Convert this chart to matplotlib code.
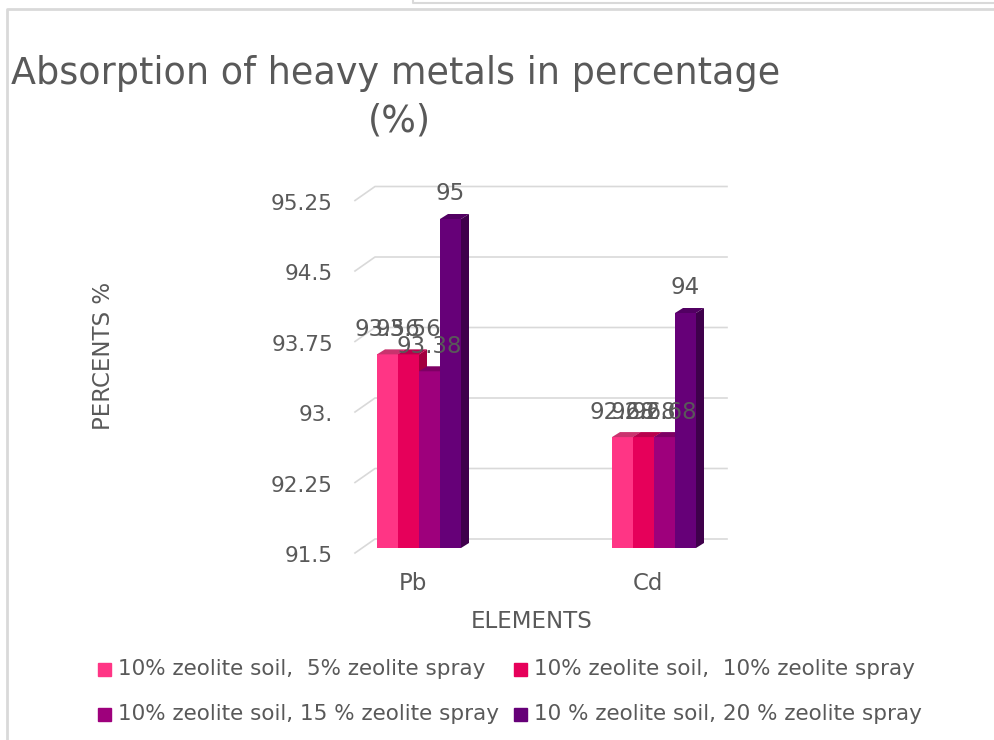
import matplotlib
matplotlib.use("Agg")
import matplotlib.pyplot as plt
from matplotlib.patches import Polygon, Rectangle
from matplotlib.lines import Line2D

# ---- data ----
categories = ["Pb", "Cd"]
series_names = [
    "10% zeolite soil,  5% zeolite spray",
    "10% zeolite soil,  10% zeolite spray",
    "10% zeolite soil, 15 % zeolite spray",
    "10 % zeolite soil, 20 % zeolite spray",
]
pb_values = [93.56, 93.56, 93.38, 95]
cd_values = [92.68, 92.68, 92.68, 94]
value_labels_pb = ["93.56", "93.56", "93.38", "95"]
value_labels_cd = ["92.68", "92.68", "92.68", "94"]
tick_values = [91.5, 92.25, 93.0, 93.75, 94.5, 95.25]
tick_labels = ["91.5", "92.25", "93.", "93.75", "94.5", "95.25"]

front_colors = ["#FF3585", "#E6005A", "#9E007C", "#660078"]
top_colors = ["#C9336E", "#B8004C", "#7E0064", "#520062"]
side_colors = ["#B8245F", "#A3003F", "#6E0057", "#3F004B"]

text_color = "#595959"
grid_color = "#D9D9D9"
font = "DejaVu Sans"

W, H = 994, 740
fig = plt.figure(figsize=(W / 100, H / 100), dpi=100)


def fx(px):
    return px / W


def fy(py):
    return 1 - py / H


# chart border
fig.add_artist(Line2D([fx(7), fx(7), fx(994)], [fy(740), fy(9), fy(9)],
                      color=grid_color, lw=2, transform=fig.transFigure))
fig.add_artist(Line2D([fx(413), fx(413), fx(994)], [fy(0), fy(3), fy(3)],
                      color=grid_color, lw=1.5, transform=fig.transFigure))

# plot axes: category 0 at x=419px, spacing 235px; 91.5 at y=548px, 94 px per unit
px_per_cat = 235.0
px_per_val = 94.0
ax_left = 419 - 0.5 * px_per_cat
ax_right = 419 + 1.5 * px_per_cat
ax_bottom = 548
ax_top = 548 - 4.0 * px_per_val
ax = fig.add_axes([fx(ax_left), fy(ax_bottom), fx(ax_right - ax_left), (ax_bottom - ax_top) / H])
ax.set_xlim(-0.5, 1.5)
ax.set_ylim(91.5, 95.5)
ax.axis("off")

# 3D wall gridlines
back_dy = 9 / px_per_val
front_dy = -5 / px_per_val
back_x0 = (375 - 419) / px_per_cat
back_x1 = (727 - 419) / px_per_cat
front_x = (355 - 419) / px_per_cat
for v in tick_values:
    ax.plot([front_x, back_x0, back_x1], [v + front_dy, v + back_dy, v + back_dy],
            color=grid_color, lw=1.2, clip_on=False, zorder=1)

for v, lab in zip(tick_values, tick_labels):
    ax.text((333 - 419) / px_per_cat, v + front_dy - 3 / px_per_val, lab, ha="right",
            va="center", fontsize=15.5, color=text_color, family=font, clip_on=False)

# bars with 3D faces
bar_w = 21 / px_per_cat
dx = 8 / px_per_cat
dy = 5 / px_per_val
base = 91.5
n = len(series_names)
for ci, (vals, labs) in enumerate([(pb_values, value_labels_pb), (cd_values, value_labels_cd)]):
    group_left = ci - n * bar_w / 2
    for si in range(n):
        x0 = group_left + si * bar_w
        x1 = x0 + bar_w
        v = vals[si]
        ax.bar(x0, v - base, width=bar_w, bottom=base, align="edge",
               color=front_colors[si], zorder=3 + si)
        ax.add_patch(Polygon([[x0, v], [x1, v], [x1 + dx, v + dy], [x0 + dx, v + dy]],
                             closed=True, facecolor=top_colors[si], edgecolor="none",
                             zorder=3 + si))
        ax.add_patch(Polygon([[x1, base], [x1 + dx, base + dy], [x1 + dx, v + dy], [x1, v]],
                             closed=True, facecolor=side_colors[si], edgecolor="none",
                             zorder=3 + si))
        ax.text(x0 + bar_w / 2, v + 25 / px_per_val, labs[si], ha="center", va="center",
                fontsize=16.5, color=text_color, family=font, zorder=10, clip_on=False)

# category labels
for ci, cat in enumerate(categories):
    ax.text(ci - 6 / px_per_cat, base - 36 / px_per_val, cat, ha="center", va="center",
            fontsize=16.5, color=text_color, family=font, clip_on=False)

# axis titles
fig.text(fx(532), fy(622), "ELEMENTS", ha="center", va="center", fontsize=16.5,
         color=text_color, family=font)
fig.text(fx(103), fy(356), "PERCENTS %", ha="center", va="center", fontsize=16.5,
         rotation=90, color=text_color, family=font)

# chart title
fig.text(fx(396), fy(74), "Absorption of heavy metals in percentage", ha="center",
         va="center", fontsize=26.3, color=text_color, family=font)
fig.text(fx(399), fy(121), "(%)", ha="center", va="center", fontsize=26.3,
         color=text_color, family=font)

# legend
legend_pos = [(98, 669), (514, 669), (98, 714), (514, 714)]
for si, (lx, ly) in enumerate(legend_pos):
    fig.add_artist(Rectangle((fx(lx), fy(ly + 6.5)), fx(13), 13 / H, color=front_colors[si],
                             transform=fig.transFigure))
    fig.text(fx(lx + 20), fy(ly), series_names[si], ha="left", va="center",
             fontsize=15.5, color=text_color, family=font)

fig.savefig("out.png", dpi=100)
